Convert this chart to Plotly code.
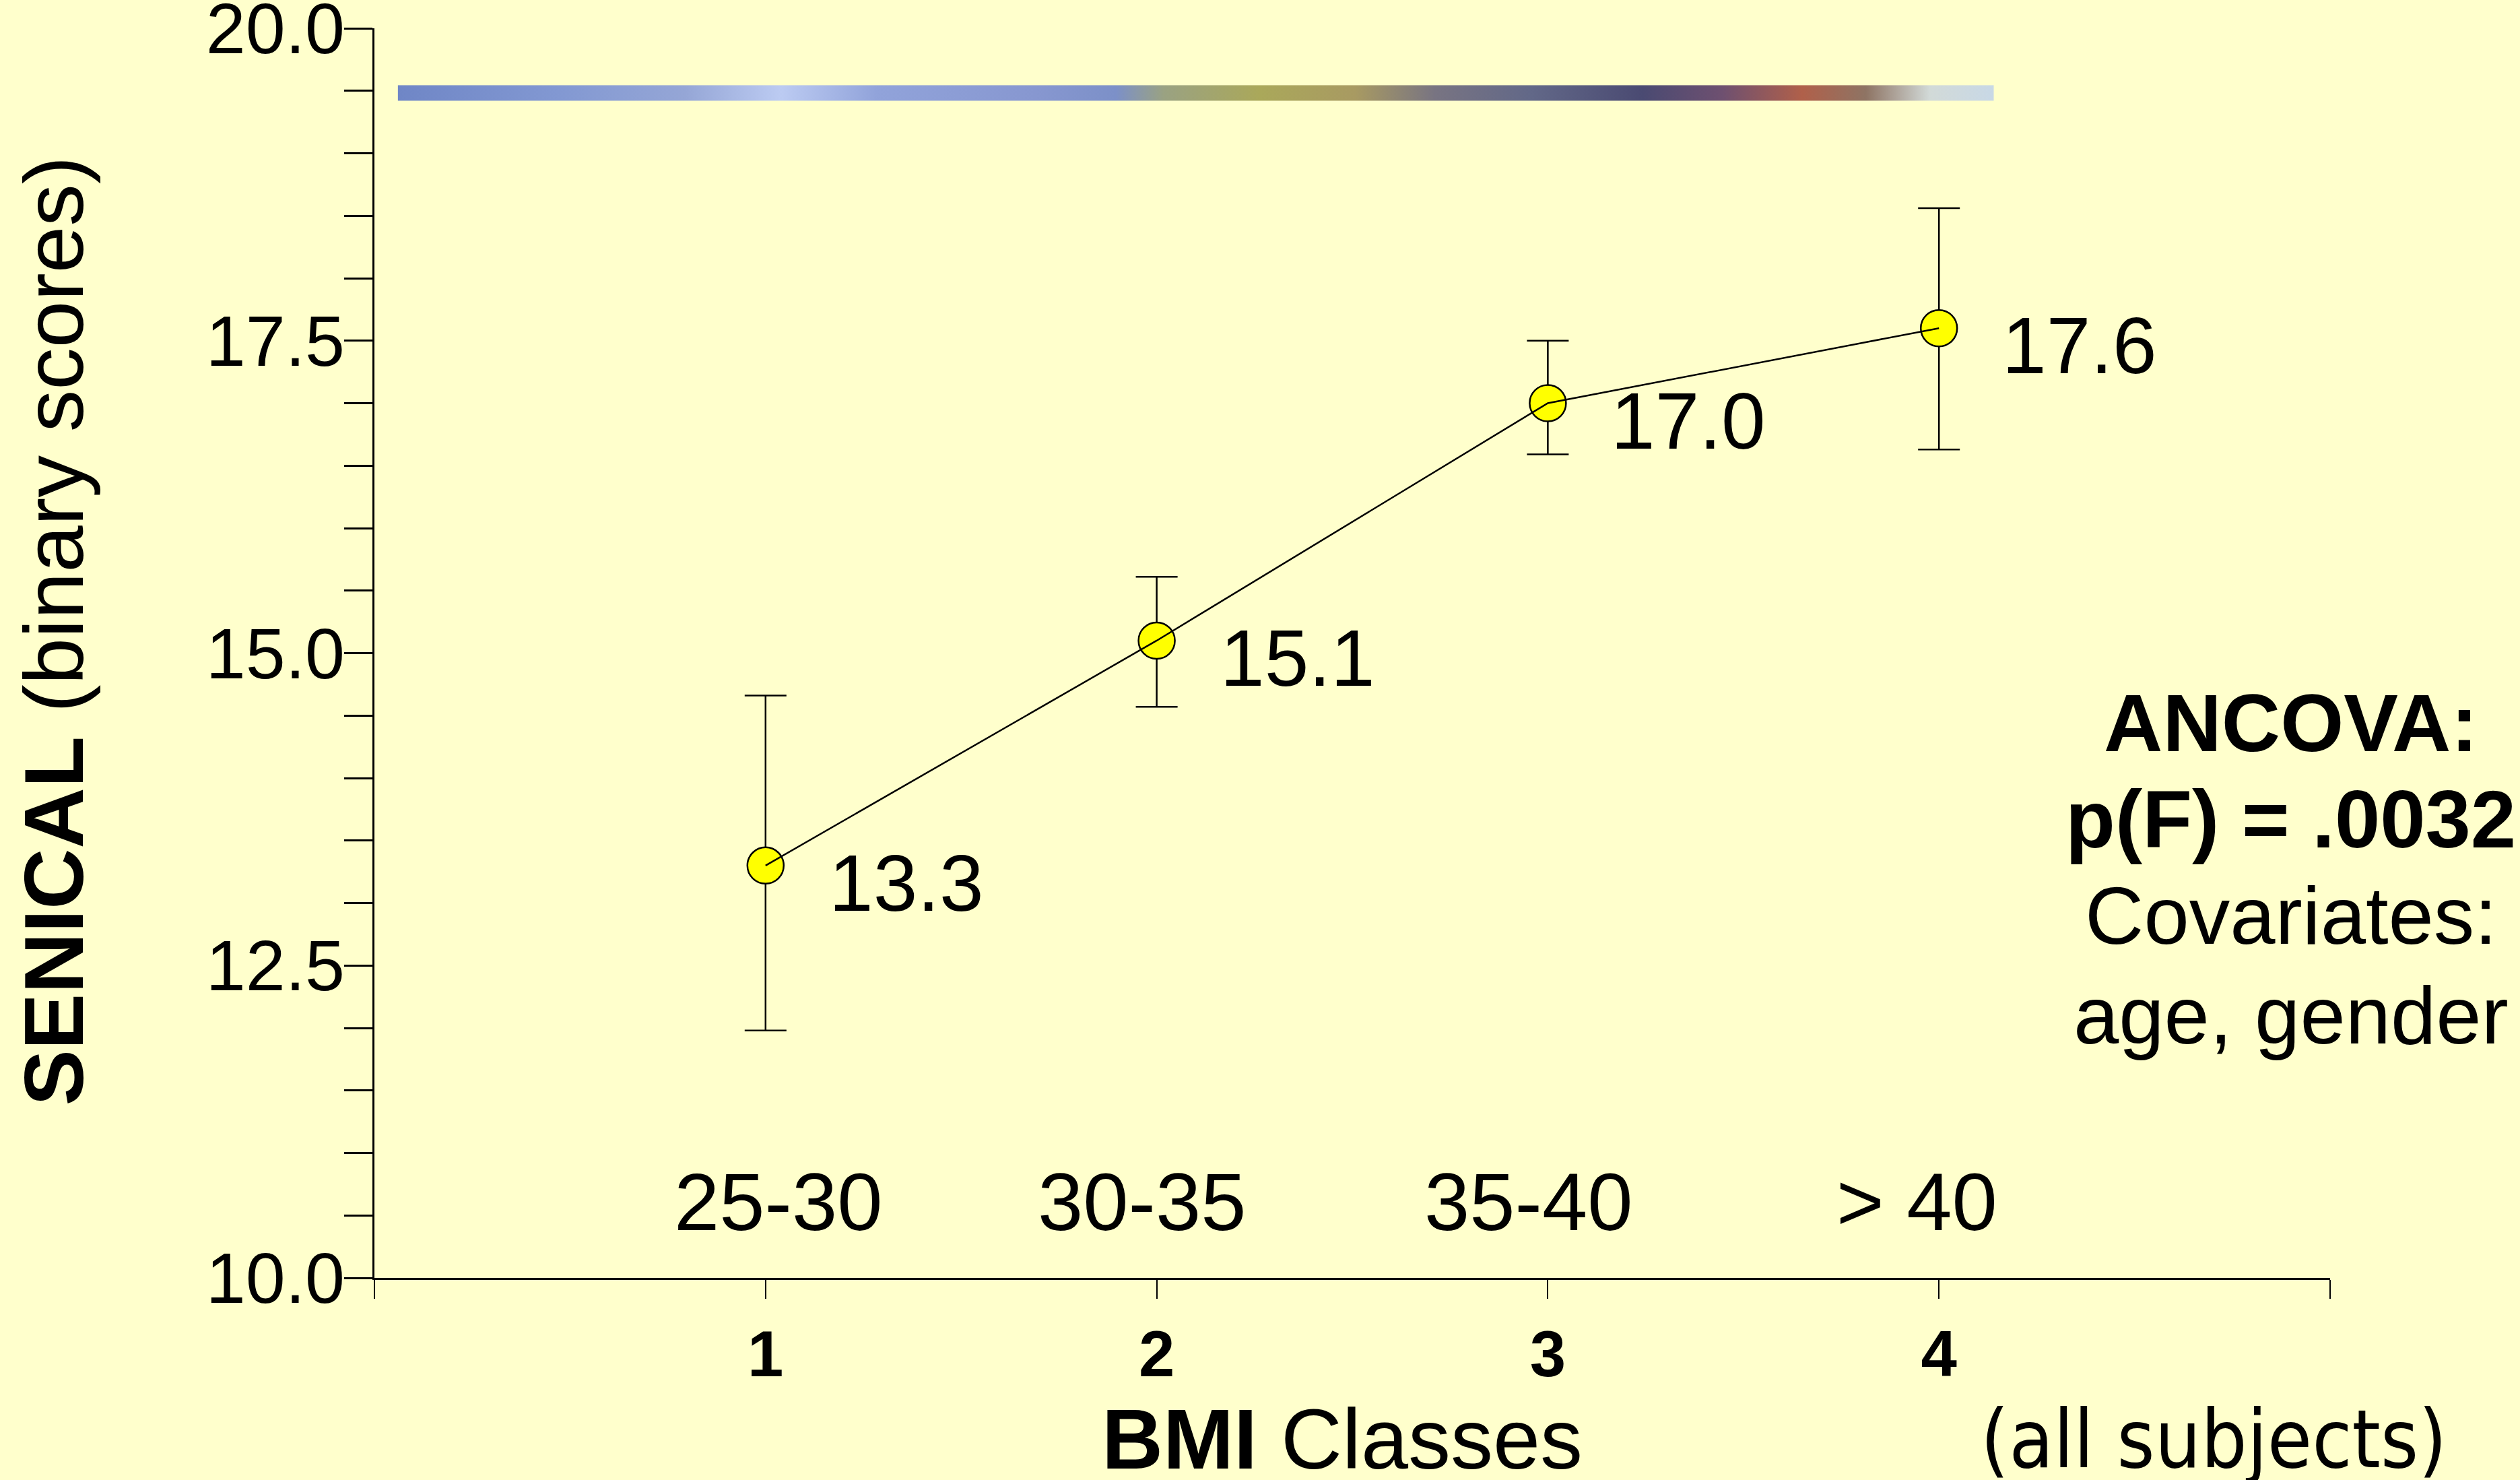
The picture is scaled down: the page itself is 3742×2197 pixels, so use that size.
import plotly.graph_objects as go

# BMI class index, class ranges and SENICAL means with confidence limits
bmi_class = [1, 2, 3, 4]
bmi_range = ["25-30", "30-35", "35-40", "> 40"]
senical_mean = [13.3, 15.1, 17.0, 17.6]
ci_upper = [14.66, 15.61, 17.50, 18.56]
ci_lower = [11.98, 14.57, 16.59, 16.63]

x_tick_vals = [0, 1, 2, 3, 4, 5]
x_tick_text = ["", "<b>1</b>", "<b>2</b>", "<b>3</b>", "<b>4</b>", ""]
y_tick_vals = [10.0, 12.5, 15.0, 17.5, 20.0]
y_tick_text = ["10.0", "12.5", "15.0", "17.5", "20.0"]

stats_lines = ["<b>ANCOVA:</b>", "<b>p(F) = .0032</b>", "Covariates:", "age, gender"]
stats_y = [14.44, 13.67, 12.90, 12.10]

# horizontal nudges (px) of the BMI range captions
range_label_dx = [19, -22, -29, -33]

# decorative banner across the top of the plot
banner_x = [0.06, 4.14, 4.14, 0.06, 0.06]
banner_y = [19.42, 19.42, 19.545, 19.545, 19.42]
banner_colors = [
    [0.00, "#6f86c6"], [0.10, "#8298d2"], [0.18, "#95a6d6"], [0.24, "#bccbf2"],
    [0.30, "#91a3da"], [0.40, "#8797d0"], [0.45, "#7c90c8"], [0.48, "#9aa282"],
    [0.54, "#aaa85a"], [0.60, "#a89a62"], [0.65, "#787482"], [0.71, "#626888"],
    [0.78, "#4a4a72"], [0.83, "#6e5070"], [0.88, "#b0604a"], [0.92, "#8e7464"],
    [0.96, "#d2dad8"], [1.00, "#c8d8e6"],
]

ARIAL = "Liberation Sans, Arial, sans-serif"
TAHOMA = "DejaVu Sans Condensed, DejaVu Sans, Tahoma, sans-serif"

fig = go.Figure()

fig.add_trace(go.Scatter(
    x=banner_x, y=banner_y, mode="lines", fill="toself",
    line=dict(width=0),
    fillgradient=dict(type="horizontal", colorscale=banner_colors),
    hoverinfo="skip", showlegend=False,
))

err_plus = [u - m for u, m in zip(ci_upper, senical_mean)]
err_minus = [m - l for m, l in zip(senical_mean, ci_lower)]

fig.add_trace(go.Scatter(
    x=bmi_class, y=senical_mean, mode="markers",
    marker=dict(size=54, color="#ffff00", line=dict(color="black", width=2.5)),
    error_y=dict(type="data", symmetric=False, array=err_plus, arrayminus=err_minus,
                 color="black", thickness=2.5, width=31),
    showlegend=False,
))

# connecting line drawn over the markers
fig.add_trace(go.Scatter(
    x=bmi_class, y=senical_mean, mode="lines",
    line=dict(color="black", width=2.5),
    showlegend=False, hoverinfo="skip",
))

annotations = []
for xv, yv in zip(bmi_class, senical_mean):
    annotations.append(dict(
        x=xv, y=yv, xref="x", yref="y", text=f"{yv:.1f}", showarrow=False,
        xanchor="left", yanchor="middle", xshift=92, yshift=-26,
        font=dict(family=ARIAL, size=118, color="black"),
    ))

for xv, label, dx in zip(bmi_class, bmi_range, range_label_dx):
    annotations.append(dict(
        x=xv, y=10.61, xref="x", yref="y", text=label, showarrow=False,
        xanchor="center", yanchor="middle", xshift=dx,
        font=dict(family=ARIAL, size=121, color="black"),
    ))

for line, yv in zip(stats_lines, stats_y):
    annotations.append(dict(
        x=4.9, y=yv, xref="x", yref="y", text=line, showarrow=False,
        xanchor="center", yanchor="middle",
        font=dict(family=ARIAL, size=121, color="black"),
    ))

annotations.append(dict(
    x=0, y=0.5, xref="paper", yref="paper", text="<b>SENICAL</b> (binary scores)",
    textangle=-90, showarrow=False, xanchor="center", yanchor="middle",
    xshift=-477, yshift=33,
    font=dict(family=ARIAL, size=125, color="black"),
))
annotations.append(dict(
    x=0.4948, y=-0.1326, xref="paper", yref="paper", text="<b>BMI</b> Classes",
    showarrow=False, xanchor="center", yanchor="middle", yshift=6,
    font=dict(family=ARIAL, size=126, color="black"),
))
annotations.append(dict(
    x=0.9404, y=-0.1326, xref="paper", yref="paper", text="(all subjects)",
    showarrow=False, xanchor="center", yanchor="middle", yshift=6,
    font=dict(family=TAHOMA, size=120, color="black"),
))

fig.update_layout(
    width=3742, height=2197,
    margin=dict(l=556, r=282, t=42, b=300, pad=0, autoexpand=False),
    paper_bgcolor="#ffffcc", plot_bgcolor="#ffffcc",
    showlegend=False,
    annotations=annotations,
    xaxis=dict(
        range=[0, 5], showgrid=False, zeroline=False, automargin=False,
        showline=True, linecolor="black", linewidth=2.5,
        ticks="outside", ticklen=28, tickwidth=2, tickcolor="black",
        tickvals=x_tick_vals, ticktext=x_tick_text,
        tickfont=dict(family=ARIAL, size=96, color="black"),
        ticklabelstandoff=0,
    ),
    yaxis=dict(
        range=[10, 20], showgrid=False, zeroline=False, automargin=False,
        showline=True, linecolor="black", linewidth=2.5,
        ticks="outside", ticklen=42, tickwidth=2.5, tickcolor="black",
        tickvals=y_tick_vals, ticktext=y_tick_text,
        tickfont=dict(family=ARIAL, size=106, color="black"),
        ticklabelstandoff=-22, ticklabeloverflow="allow",
        minor=dict(dtick=0.5, tick0=10, ticks="outside", ticklen=42,
                   tickwidth=2.5, tickcolor="black", showgrid=False),
    ),
)

fig.write_html("out.html")
